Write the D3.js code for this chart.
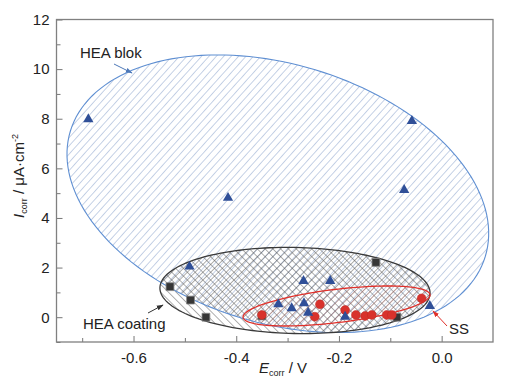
<!DOCTYPE html>
<html><head><meta charset="utf-8">
<script src="https://cdn.jsdelivr.net/npm/d3@7"></script>
<style>body{margin:0;background:#fff}svg text{font-family:"Liberation Sans",Arial,sans-serif}</style>
</head><body><svg id="c" width="511" height="390"></svg>
<script>
// ---- data ----
const xTickValues = [-0.6, -0.4, -0.2, 0.0];
const xTickLabels = ["-0.6", "-0.4", "-0.2", "0.0"];
const xMinorTicks = [-0.7, -0.5, -0.3, -0.1];
const yTickValues = [0, 2, 4, 6, 8, 10, 12];
const yTickLabels = ["0", "2", "4", "6", "8", "10", "12"];
const yMinorTicks = [-1, 1, 3, 5, 7, 9, 11];

// HEA blok (triangles): [Ecorr, Icorr]
const heaBlok = [[-0.688,7.98],[-0.058,7.91],[-0.073,5.13],[-0.416,4.81],[-0.491,2.04],
  [-0.269,1.46],[-0.217,1.46],[-0.318,0.52],[-0.292,0.36],[-0.268,0.56],[-0.260,0.18],
  [-0.188,0.02],[-0.023,0.45]];
// HEA coating (squares)
const heaCoating = [[-0.529,1.23],[-0.489,0.69],[-0.459,0.0],[-0.128,2.21],[-0.087,0.0],[-0.350,0.05]];
// SS (circles)
const ss = [[-0.350,0.09],[-0.237,0.52],[-0.247,0.02],[-0.188,0.29],[-0.167,0.09],
  [-0.149,0.05],[-0.136,0.09],[-0.107,0.09],[-0.097,0.09],[-0.039,0.76]];

// group ellipses: center, two conjugate semi-axis vectors (data units)
const ellipseBlok = {c:[-0.319,4.976], a:[0.4041,-2.520], b:[-0.0727,-4.996]};
const ellipseCoating = {c:[-0.2856,1.077], a:[0.263,-0.113], b:[-0.0018,-1.734]};
const ellipseSS = {c:[-0.2047,0.452], a:[0.182,0.456], b:[0.0039,-0.665]};

// ---- chart ----
const svg = d3.select("#c");
const L = 56.5, R = 493, T = 19.5, B = 342;
const x = d3.scaleLinear().domain([-0.75, 0.1]).range([L, R]);
const y = d3.scaleLinear().domain([-1, 12]).range([B, T]);

const defs = svg.append("defs");
function hatch(id, angle, color, width, spacing){
  const p = defs.append("pattern").attr("id", id).attr("patternUnits","userSpaceOnUse")
    .attr("width", spacing).attr("height", spacing)
    .attr("patternTransform", `rotate(${angle})`);
  p.append("line").attr("x1",0).attr("y1",0).attr("x2",0).attr("y2",spacing)
    .attr("stroke", color).attr("stroke-width", width);
}
hatch("blueSlash", 42, "#7f9bc8", 0.9, 5.5);
hatch("darkBack", -45, "#505050", 0.9, 5.5);
hatch("darkSlash", 45, "#505050", 0.9, 5.5);
hatch("redSlash", 45, "#e06a64", 0.8, 5.5);

const ts = d3.range(0, 160).map(i => i / 160 * 2 * Math.PI);
const ell = e => d3.line().curve(d3.curveLinearClosed)
  .x(t => x(e.c[0] + e.a[0]*Math.cos(t) + e.b[0]*Math.sin(t)))
  .y(t => y(e.c[1] + e.a[1]*Math.cos(t) + e.b[1]*Math.sin(t)))(ts);

defs.append("clipPath").attr("id","clipBlok").append("path").attr("d", ell(ellipseBlok));

// fills
svg.append("path").attr("d", ell(ellipseBlok)).attr("fill","url(#blueSlash)");
svg.append("path").attr("d", ell(ellipseCoating)).attr("fill","url(#darkBack)");
svg.append("g").attr("clip-path","url(#clipBlok)")
  .append("path").attr("d", ell(ellipseCoating)).attr("fill","url(#darkSlash)");
svg.append("path").attr("d", ell(ellipseSS)).attr("fill","url(#redSlash)").attr("opacity",0.6);

// outlines
svg.append("path").attr("d", ell(ellipseBlok)).attr("fill","none").attr("stroke","#5f8fd2").attr("stroke-width",1.1);
svg.append("path").attr("d", ell(ellipseCoating)).attr("fill","none").attr("stroke","#3a3a3a").attr("stroke-width",1.3);
svg.append("path").attr("d", ell(ellipseSS)).attr("fill","none").attr("stroke","#e0302a").attr("stroke-width",1.3);

// markers
svg.append("g").selectAll("path").data(heaCoating).join("path")
  .attr("d", d3.symbol(d3.symbolSquare, 62)())
  .attr("transform", d => `translate(${x(d[0])},${y(d[1])})`)
  .attr("fill","#363636").attr("stroke","#888").attr("stroke-width",0.8);
svg.append("g").selectAll("path").data(ss).join("path")
  .attr("d", d3.symbol(d3.symbolCircle, 62)())
  .attr("transform", d => `translate(${x(d[0])},${y(d[1])})`)
  .attr("fill","#d8322c").attr("stroke","#c02a25").attr("stroke-width",0.5);
svg.append("g").selectAll("path").data(heaBlok).join("path")
  .attr("d", d3.symbol(d3.symbolTriangle, 46)())
  .attr("transform", d => `translate(${x(d[0])},${y(d[1])})`)
  .attr("fill","#2f4f98");

// axes
const ax = svg.append("g").attr("color","#222");
ax.append("g").attr("transform",`translate(0,${B})`)
  .call(d3.axisBottom(x).tickValues(xTickValues).tickFormat((d,i)=>xTickLabels[i]).tickSize(-6).tickPadding(10));
ax.append("g").attr("transform",`translate(0,${B})`)
  .call(d3.axisBottom(x).tickValues(xMinorTicks).tickFormat("").tickSize(-4));
ax.append("g").attr("transform",`translate(${L},0)`)
  .call(d3.axisLeft(y).tickValues(yTickValues).tickFormat((d,i)=>yTickLabels[i]).tickSize(-6).tickPadding(7));
ax.append("g").attr("transform",`translate(${L},0)`)
  .call(d3.axisLeft(y).tickValues(yMinorTicks).tickFormat("").tickSize(-4));
ax.selectAll(".domain").remove();
ax.selectAll(".tick line").attr("stroke","#777");
ax.selectAll(".tick text").attr("font-size",15).attr("fill","#222");
svg.append("rect").attr("x",L).attr("y",T).attr("width",R-L).attr("height",B-T)
  .attr("fill","none").attr("stroke","#808080").attr("stroke-width",1.3);

// axis titles
const xt = svg.append("text").attr("x",283).attr("y",373).attr("text-anchor","middle")
  .attr("font-size",15).attr("fill","#222");
xt.append("tspan").attr("font-style","italic").text("E");
xt.append("tspan").attr("font-size",9).attr("dy",3).text("corr");
xt.append("tspan").attr("dy",-3).text(" / V");
const yt = svg.append("text").attr("transform","translate(24,176) rotate(-90)").attr("text-anchor","middle")
  .attr("font-size",15).attr("fill","#222");
yt.append("tspan").attr("font-style","italic").text("I");
yt.append("tspan").attr("font-size",9).attr("dy",3).text("corr");
yt.append("tspan").attr("dy",-3).text(" / μA·cm");
yt.append("tspan").attr("font-size",9).attr("dy",-6).text("-2");

// annotations
function arrowDef(id, color){
  defs.append("marker").attr("id",id).attr("viewBox","0 0 10 10").attr("refX",9).attr("refY",5)
    .attr("markerWidth",7).attr("markerHeight",7).attr("orient","auto")
    .append("path").attr("d","M0,1.5L10,5L0,8.5Z").attr("fill",color);
}
arrowDef("arBlue","#4d78b8"); arrowDef("arDark","#333"); arrowDef("arRed","#e0302a");
svg.append("text").attr("x",80).attr("y",58).attr("font-size",15).attr("fill","#222").text("HEA blok");
svg.append("line").attr("x1",114).attr("y1",64).attr("x2",132).attr("y2",73)
  .attr("stroke","#4d78b8").attr("stroke-width",1).attr("marker-end","url(#arBlue)");
svg.append("text").attr("x",83).attr("y",329).attr("font-size",15).attr("fill","#222").text("HEA coating");
svg.append("line").attr("x1",148).attr("y1",313).attr("x2",163).attr("y2",305)
  .attr("stroke","#333").attr("stroke-width",1).attr("marker-end","url(#arDark)");
svg.append("text").attr("x",449).attr("y",334).attr("font-size",15).attr("fill","#222").text("SS");
svg.append("line").attr("x1",447).attr("y1",326).attr("x2",433).attr("y2",311)
  .attr("stroke","#e0302a").attr("stroke-width",1).attr("marker-end","url(#arRed)");
</script></body></html>
